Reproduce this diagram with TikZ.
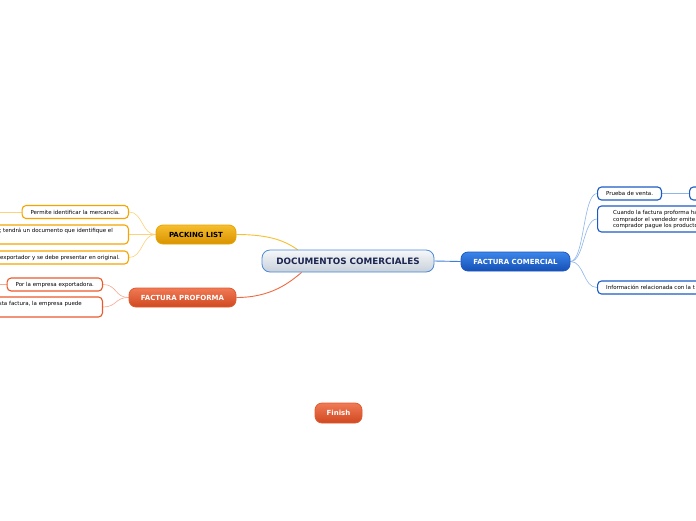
\documentclass[tikz,border=0pt]{standalone}
\usepackage{fontspec}
\setmainfont{DejaVu Sans}
\usetikzlibrary{calc,backgrounds}
\definecolor{leafO}{HTML}{F5A500}
\definecolor{conO}{HTML}{F8C030}
\definecolor{conOl}{HTML}{FDD27A}
\definecolor{plTop}{HTML}{F6BE2E}
\definecolor{plBot}{HTML}{DA9200}
\definecolor{plBor}{HTML}{E9A400}
\definecolor{leafR}{HTML}{EB5A2A}
\definecolor{conR}{HTML}{F06A40}
\definecolor{conRl}{HTML}{F6A88E}
\definecolor{ppTop}{HTML}{F07A55}
\definecolor{ppBot}{HTML}{D04820}
\definecolor{ppBor}{HTML}{E05A30}
\definecolor{leafB}{HTML}{1C5BC5}
\definecolor{conB}{HTML}{3C7ED8}
\definecolor{conBl}{HTML}{8FB6EA}
\definecolor{fcTop}{HTML}{3C86EA}
\definecolor{fcBot}{HTML}{1550B6}
\definecolor{fcBor}{HTML}{1E58C0}
\definecolor{dcTop}{HTML}{F6F8FA}
\definecolor{dcBot}{HTML}{C8D0DA}
\definecolor{dcBor}{HTML}{4A8AD8}
\definecolor{dcTxt}{HTML}{1B2550}
\tikzset{
  mainnode/.style={rounded corners=7pt, line width=0.8pt, inner sep=0pt,
    font=\fontsize{7}{8}\selectfont\bfseries, minimum height=19pt},
  leafbox/.style={draw, fill=white, line width=1.1pt, rounded corners=4pt,
    inner xsep=8.5pt, inner ysep=0pt, minimum height=13pt,
    font=\fontsize{5.5}{6.5}\selectfont},
  leaftext/.style={inner sep=0pt, font=\fontsize{5.5}{6.5}\selectfont},
  conn/.style={line width=0.9pt},
  connl/.style={line width=0.6pt}
}
\begin{document}
\begin{tikzpicture}[x=1pt,y=-1pt]
\useasboundingbox (0,0) rectangle (696,520);
\begin{scope}[on background layer]
\fill[white] (0,0) rectangle (696,520);
\end{scope}
\clip (0,0) rectangle (696,520);

% central
\node[mainnode, draw=dcBor, top color=dcTop, bottom color=dcBot, text=dcTxt,
  minimum width=172pt, minimum height=22pt, rounded corners=8pt,
  font=\fontsize{8.8}{10}\selectfont\bfseries] (dc) at (348,261) {DOCUMENTOS COMERCIALES};

% main branches
\node[mainnode, draw=fcBor, top color=fcTop, bottom color=fcBot, text=white,
  minimum width=109pt] (fc) at (515.5,261.5) {FACTURA COMERCIAL};
\node[mainnode, draw=plBor, top color=plTop, bottom color=plBot, text=black,
  minimum width=80pt] (pl) at (196,234.5) {PACKING LIST};
\node[mainnode, draw=ppBor, top color=ppTop, bottom color=ppBot, text=white,
  minimum width=107pt] (pp) at (182.5,297.5) {FACTURA PROFORMA};
\node[mainnode, draw=ppBor, top color=ppTop, bottom color=ppBot, text=white,
  minimum width=47pt, minimum height=20pt] (fin) at (338.5,413) {Finish};

% packing list leaves
\node[leafbox, draw=leafO, anchor=east] (l1) at (129,212) {Permite identificar la mercancía.};
\node[leafbox, draw=leafO, anchor=east, minimum width=170pt, minimum height=19pt] (l2) at (129,234.5) {};
\node[leaftext, anchor=east] (l2t) at (113,231) {; tendrá un documento que identifique el};
\node[leafbox, draw=leafO, anchor=east, minimum width=170pt] (l3) at (129,257.5) {};
\node[leaftext, anchor=east] (l3t) at (120,257.5) {exportador y se debe presentar en original.};
\coordinate (l1x) at (-10,212);

% proforma leaves
\node[leafbox, draw=leafR, anchor=east] (p1) at (103,284.5) {Por la empresa exportadora.};
\node[leafbox, draw=leafR, anchor=east, minimum width=150pt, minimum height=20pt] (p2) at (103,307) {};
\node[leaftext, anchor=east] (p2t) at (82,304) {sta factura, la empresa puede};
\coordinate (p1x) at (-10,284.5);

% comercial leaves
\node[leafbox, draw=leafB, anchor=west] (c1) at (597,193.5) {Prueba de venta.};
\node[leafbox, draw=leafB, anchor=west, minimum width=60pt] (c1b) at (689,193.5) {};
\node[leafbox, draw=leafB, anchor=west, minimum width=140pt, minimum height=26pt] (c2) at (597,219) {};
\node[leaftext, anchor=north west, align=left] (c2t) at (613,210.3)
  {Cuando la factura proforma ha\\comprador el vendedor emite\\comprador pague los producto};
\node[leafbox, draw=leafB, anchor=west, minimum width=140pt] (c3) at (597,287.5) {};
\node[leaftext, anchor=west] (c3t) at (606,287.5) {Información relacionada con la t};

% connectors
\begin{scope}[on background layer]
\clip (0,0) rectangle (696,520);
\draw[conn, conO] (pl.east) .. controls +(35,0) and +(-12,-8) .. ($(dc.north west)+(36,0)$);
\draw[conn, conR] (pp.east) .. controls +(35,0) and +(-12,10) .. ($(dc.south west)+(40,0)$);
\draw[conn, conB] (dc.east) -- (fc.west);
\draw[connl, conOl] (pl.west) .. controls +(-14,0) and +(14,0) .. (l1.east);
\draw[connl, conOl] (pl.west) -- (l2.east);
\draw[connl, conOl] (pl.west) .. controls +(-14,0) and +(14,0) .. (l3.east);
\draw[connl, conOl] (l1.west) -- (l1x);
\draw[connl, conRl] (pp.west) .. controls +(-14,0) and +(14,0) .. (p1.east);
\draw[connl, conRl] (pp.west) .. controls +(-14,0) and +(14,0) .. (p2.east);
\draw[connl, conRl] (p1.west) -- (p1x);
\draw[connl, conBl] (fc.east) .. controls +(14,0) and +(-14,0) .. (c1.west);
\draw[connl, conBl] (fc.east) .. controls +(14,0) and +(-14,0) .. (c2.west);
\draw[connl, conBl] (fc.east) .. controls +(14,0) and +(-14,0) .. (c3.west);
\draw[conn, conBl] (c1.east) -- (c1b.west);
\end{scope}
\end{tikzpicture}
\end{document}
